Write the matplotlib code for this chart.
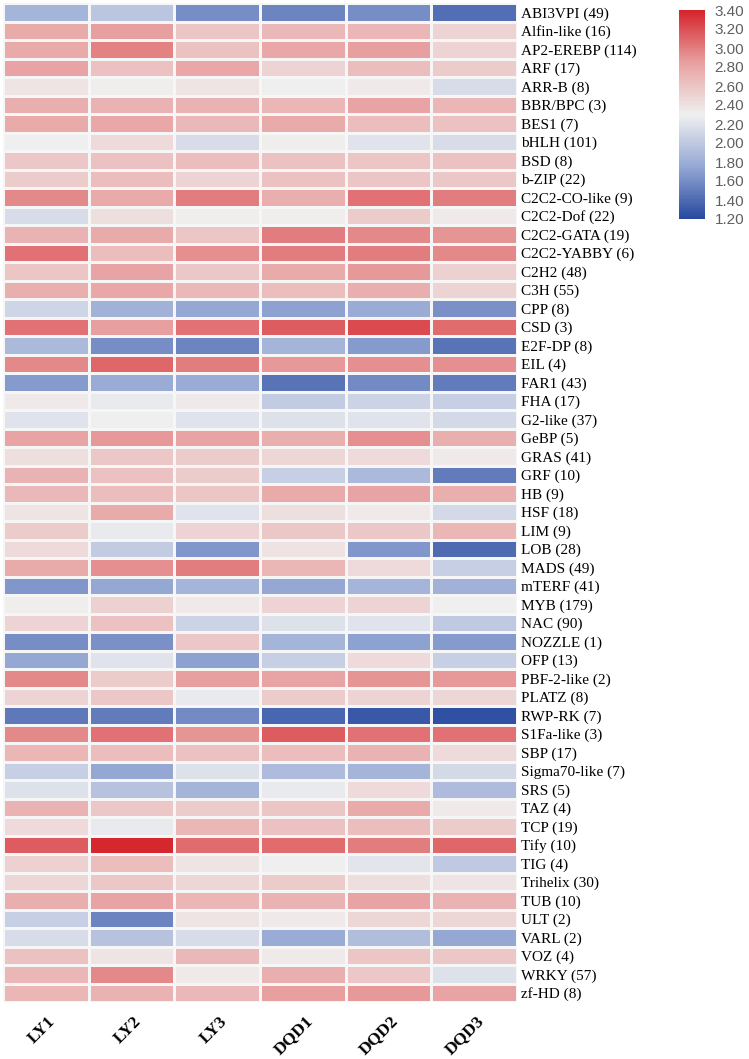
import numpy as np
import matplotlib
matplotlib.use("Agg")
import matplotlib.pyplot as plt
from matplotlib.colors import LinearSegmentedColormap
from matplotlib.transforms import ScaledTranslation

families = ["ABI3VPI (49)", "Alfin-like (16)", "AP2-EREBP (114)", "ARF (17)", "ARR-B (8)",
            "BBR/BPC (3)", "BES1 (7)", "bHLH (101)", "BSD (8)", "b-ZIP (22)",
            "C2C2-CO-like (9)", "C2C2-Dof (22)", "C2C2-GATA (19)", "C2C2-YABBY (6)",
            "C2H2 (48)", "C3H (55)", "CPP (8)", "CSD (3)", "E2F-DP (8)", "EIL (4)",
            "FAR1 (43)", "FHA (17)", "G2-like (37)", "GeBP (5)", "GRAS (41)", "GRF (10)",
            "HB (9)", "HSF (18)", "LIM (9)", "LOB (28)", "MADS (49)", "mTERF (41)",
            "MYB (179)", "NAC (90)", "NOZZLE (1)", "OFP (13)", "PBF-2-like (2)",
            "PLATZ (8)", "RWP-RK (7)", "S1Fa-like (3)", "SBP (17)", "Sigma70-like (7)",
            "SRS (5)", "TAZ (4)", "TCP (19)", "Tify (10)", "TIG (4)", "Trihelix (30)",
            "TUB (10)", "ULT (2)", "VARL (2)", "VOZ (4)", "WRKY (57)", "zf-HD (8)"]

samples = ["LY1", "LY2", "LY3", "DQD1", "DQD2", "DQD3"]

LY1 = [1.85, 2.78, 2.78, 2.82, 2.38, 2.75, 2.78, 2.30, 2.58, 2.55, 2.95, 2.15, 2.72, 3.05,
       2.60, 2.75, 2.10, 3.05, 1.88, 2.95, 1.68, 2.35, 2.20, 2.82, 2.42, 2.72, 2.68, 2.38,
       2.55, 2.45, 2.78, 1.65, 2.32, 2.50, 1.60, 1.75, 2.95, 2.50, 1.48, 2.95, 2.70, 2.05,
       2.18, 2.72, 2.45, 3.15, 2.52, 2.48, 2.75, 2.05, 2.15, 2.62, 2.70, 2.70]
LY2 = [1.98, 2.85, 2.98, 2.62, 2.32, 2.72, 2.80, 2.45, 2.62, 2.65, 2.78, 2.42, 2.78, 2.65,
       2.82, 2.80, 1.82, 2.85, 1.60, 3.10, 1.78, 2.25, 2.30, 2.88, 2.58, 2.62, 2.65, 2.78,
       2.25, 2.02, 2.92, 1.75, 2.52, 2.62, 1.62, 2.20, 2.55, 2.58, 1.50, 3.05, 2.65, 1.75,
       1.95, 2.58, 2.25, 3.38, 2.65, 2.58, 2.82, 1.55, 1.95, 2.38, 2.95, 2.72]
LY3 = [1.60, 2.60, 2.62, 2.80, 2.38, 2.72, 2.68, 2.15, 2.65, 2.50, 3.00, 2.32, 2.60, 2.92,
       2.58, 2.68, 1.75, 3.05, 1.55, 3.00, 1.78, 2.35, 2.20, 2.82, 2.55, 2.55, 2.60, 2.20,
       2.50, 1.65, 3.00, 1.85, 2.35, 2.08, 2.58, 1.72, 2.85, 2.25, 1.58, 2.90, 2.62, 2.18,
       1.85, 2.55, 2.70, 3.08, 2.38, 2.48, 2.70, 2.38, 2.15, 2.68, 2.35, 2.68]
DQD1 = [1.55, 2.68, 2.80, 2.50, 2.30, 2.70, 2.78, 2.32, 2.62, 2.62, 2.75, 2.32, 3.00, 3.00,
        2.78, 2.65, 1.72, 3.15, 1.85, 2.88, 1.45, 2.02, 2.18, 2.75, 2.48, 2.05, 2.78, 2.42,
        2.58, 2.40, 2.70, 1.75, 2.50, 2.18, 1.85, 2.05, 2.82, 2.55, 1.38, 3.15, 2.65, 1.90,
        2.25, 2.60, 2.62, 3.08, 2.30, 2.55, 2.72, 2.35, 1.78, 2.35, 2.75, 2.85]
DQD2 = [1.60, 2.70, 2.85, 2.65, 2.35, 2.82, 2.65, 2.20, 2.60, 2.60, 3.05, 2.55, 2.95, 3.00,
        2.88, 2.75, 1.78, 3.22, 1.68, 2.92, 1.58, 2.08, 2.20, 2.92, 2.45, 1.88, 2.82, 2.35,
        2.58, 1.65, 2.45, 1.85, 2.50, 2.20, 1.72, 2.45, 2.90, 2.50, 1.30, 3.05, 2.72, 1.85,
        2.45, 2.78, 2.65, 3.00, 2.22, 2.42, 2.82, 2.48, 1.92, 2.60, 2.58, 2.88]
DQD3 = [1.42, 2.50, 2.50, 2.55, 2.15, 2.70, 2.62, 2.15, 2.62, 2.58, 3.00, 2.35, 2.90, 2.95,
        2.52, 2.50, 1.62, 3.08, 1.45, 2.92, 1.50, 2.05, 2.12, 2.75, 2.35, 1.50, 2.75, 2.12,
        2.70, 1.40, 2.05, 1.82, 2.30, 2.00, 1.68, 2.05, 2.88, 2.48, 1.25, 3.05, 2.45, 2.12,
        1.90, 2.35, 2.55, 3.10, 2.00, 2.38, 2.72, 2.48, 1.75, 2.58, 2.18, 2.82]

vmin, vmax = 1.2, 3.4
cbar_ticks = [1.2, 1.4, 1.6, 1.8, 2.0, 2.2, 2.4, 2.6, 2.8, 3.0, 3.2, 3.4]

data = np.array([LY1, LY2, LY3, DQD1, DQD2, DQD3]).T

cmap = LinearSegmentedColormap.from_list(
    "bwr_custom", [(0.0, "#26489f"), (0.25, "#95a8d4"), (0.5, "#f0f0f0"),
                   (0.75, "#e8a0a0"), (1.0, "#d4232a")])

fig = plt.figure(figsize=(7.49, 10.59), dpi=100)
ax = fig.add_axes([3 / 749, 1 - 1002 / 1059, 514 / 749, 999 / 1059])

nrow, ncol = data.shape
mesh = ax.pcolormesh(np.arange(ncol + 1), np.arange(nrow + 1), data, cmap=cmap,
                     vmin=vmin, vmax=vmax, edgecolors="#f6f6f6", linewidth=0.8)
ax.set_xlim(0, ncol)
ax.set_ylim(nrow, 0)
for s in ax.spines.values():
    s.set_visible(False)

ax.yaxis.tick_right()
ax.set_yticks(np.arange(nrow) + 0.5)
ax.set_yticklabels(families, fontfamily="Liberation Serif", fontsize=11)
ax.tick_params(axis="y", length=0, pad=3)

ax.set_xticks(np.arange(ncol) + 0.5)
ax.set_xticklabels(samples, fontfamily="Liberation Serif", fontsize=12.5,
                   fontweight="bold", rotation=45, ha="right", va="top")
ax.tick_params(axis="x", length=0, pad=8)
offset = ScaledTranslation(13 / 100, 0, fig.dpi_scale_trans)
for lab in ax.get_xticklabels():
    lab.set_transform(lab.get_transform() + offset)

cax = fig.add_axes([679 / 749, 1 - 219 / 1059, 26 / 749, 209 / 1059])
cb = fig.colorbar(mesh, cax=cax, ticks=cbar_ticks)
cb.outline.set_visible(False)
cb.ax.set_yticklabels([f"{t:.2f}" for t in cbar_ticks], color="#606060",
                      fontfamily="Liberation Sans", fontsize=11)
cb.ax.tick_params(length=0, pad=7)

fig.savefig("out.png", dpi=100)
